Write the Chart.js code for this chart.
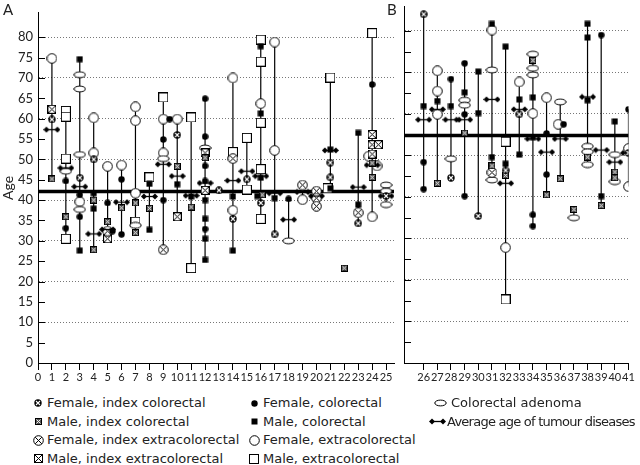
<!DOCTYPE html>
<html>
<head>
<meta charset="utf-8">
<script src="https://cdn.jsdelivr.net/npm/chart.js@4.4.1/dist/chart.umd.min.js"></script>
<style>
  body { margin: 0; background: #fff; width: 640px; height: 465px; overflow: hidden; position: relative; font-family: Lato, "DejaVu Sans", sans-serif; color: #222; }
  canvas.chart { position: absolute; top: 0; }
  #chartA { left: 0; }
  #chartB { left: 398px; }
  .panel { position: absolute; font-size: 15px; }
  .legIcon { position: absolute; }
  .legText { position: absolute; font-family: "DejaVu Sans", sans-serif; font-size: 13px; line-height: 18px; white-space: nowrap; }
</style>
</head>
<body>
<canvas id="chartA" class="chart" width="400" height="390"></canvas>
<canvas id="chartB" class="chart" width="242" height="390"></canvas>
<div class="panel" style="left:3px;top:0px">A</div>
<div class="panel" style="left:387px;top:0px">B</div>
<div id="legend"></div>
<script>
// [family, age] pairs, families 1-25 in panel A, 26-41 in panel B
const femaleIndexColorectal = [[1,59.8],[3,45.5],[4,50],[10,56],[13,42.4],[14,35.4],[15,45.1],[16,39.3],[17,31.6],
  [21,49.2],[21,45.6],[23,34.3],[25,41],[26,84],[28,44.6],[30,35.4],[32,46.4],[33,59.9],[41,50.6]];
const maleIndexColorectal = [[1,45.2],[2,35.9],[4,40],[4,27.8],[5,34.7],[6,38.1],[7,39.3],[7,32],[8,38],[10,48.3],
  [11,38.3],[12,50.4],[16.1,41.3],[22,23.3],[24,49.1],[24,45.6],[27,43.3],[29,55.4],[31,47.5],[32,45.2],[34,72.9],
  [35,40.5],[36,44.4],[37,37],[38,49.6],[39,37.9],[40,46],[40,44.6]];
const femaleIndexExtracolorectal = [[5,32.4],[9,27.8],[14,50.2],[19,43.7],[20,42.2],[20,40.5],[20,38.5],[23,36.9],[31,45.9]];
const maleIndexExtracolorectal = [[1,62.3],[5,30.5],[10,35.9],[12,51.6],[12,42.4],[24,56.1],[24,53.6],[24.45,53.6],[24,51.3]];
const femaleColorectal = [[2,44.7],[2,33.1],[3,41.3],[3,35.9],[5,39.3],[5.35,32.4],[6,45.1],[6,31.6],[9.45,59.9],[9,54.9],
  [9,40],[12,64.9],[12,55.6],[12,48.4],[12,44.7],[12,32.9],[18,40.3],[24,68.4],[26,48.4],[26,41.9],[28,68.4],[29,72.2],
  [29,59.9],[29,40.2],[34,35.7],[34,33],[35,55.3],[35,45.4],[36.25,57.5],[39,79],[41,61.1]];
const maleColorectal = [[3,74.6],[3,27.6],[4,41.7],[4,37.9],[8,44],[8,32.7],[10,43.9],[11,40.9],[12,40],[12,35.4],
  [12,30.5],[12,25.3],[14,40.9],[14,27.6],[16,77.8],[16,61.3],[16,45.5],[15.75,41],[17,40.5],[21,52.4],[21,42.9],
  [23,56.5],[23,38.9],[26,61.9],[27,63.1],[28,61.9],[29,65.2],[30,70.2],[30,60.2],[31,81.7],[31,49.6],[32,76.2],
  [32,48],[33,63.5],[33,50.2],[34,64],[34,54.4],[38,81.7],[38,78.4],[38,63.3],[39,40.2],[40,58.2]];
const femaleExtracolorectal = [[1,74.8],[3,39.6],[4,60.2],[4,51.6],[5,48.3],[6,48.6],[7,62.9],[7,59.5],[7,41.7],
  [9,59.9],[9,51.6],[10,59.9],[14,70],[14,37.5],[16,63.7],[17,78.8],[17,52.2],[19,40.1],[23.75,50.8],[24.35,48.4],
  [24,35.9],[27,70.4],[27,65.5],[27,59.9],[31,80.2],[32,27.8],[33,67.7],[34,60.1],[35,63.9],[35.85,57.5],[41,51.7],[41,42.5]];
const maleExtracolorectal = [[2,61.9],[2,60.5],[2,50.2],[2,30.5],[7,34.7],[8,45.6],[9,65.2],[11,60.3],[11,23.3],
  [14,51.8],[15,55.3],[15,42.6],[16,79.4],[16,74],[16,59],[16,47.6],[16,35.4],[21,70.1],[20.8,42.9],[24,81],[32,53.3],[32,15.3]];
const colorectalAdenoma = [[2,47.1],[3,70.8],[3,67.3],[3,51.2],[3,37.7],[7,33.8],[9,50.2],[12,52.8],[18,30],[25,43.7],
  [25,42.2],[25,38.9],[28,49.2],[29,63.3],[29,62.1],[31,70.6],[31,44.1],[34,74.4],[34,71],[34,69.4],[36,62.9],[37,35],
  [38,52.2],[38,50.9],[38,47.8],[40,50.2],[40,43.7]];
const averageTumourAge = [[1,57.3],[2,47.9],[3,43.3],[4,31.7],[5,32.8],[6,39.5],[8,40.9],[9,48.8],[10,45.9],[11,41.1],
  [12,44.2],[14,44.8],[15,47.1],[16,45.9],[17,41.7],[18,35.2],[19,42],[20,41],[21,52.2],[23,43.2],[24,48.6],[25,41],
  [26,58.6],[27,61.1],[28,58.6],[29,58.6],[31,63.5],[32,43.3],[33,61.1],[34,54],[35,50.8],[36,54],[38,64.1],
  [39,51.3],[40,48.4],[41,50.6]];

const groupAverageA = 42.1;
const groupAverageB = 54.8;
const ticksA = [0,1,2,3,4,5,6,7,8,9,10,11,12,13,14,15,16,17,18,19,20,21,22,23,24,25];
const ticksB = [26,27,28,29,30,31,32,33,34,35,36,37,38,39,40,41];
const ageTicks = [0,5,10,15,20,25,30,35,40,45,50,55,60,65,70,75,80];

function makeIcon(kind) {
  const sz = {femIndexCol:[8,8], maleIndexCol:[7,7], femIndexExtra:[11,11], maleIndexExtra:[9,9], femCol:[7,7],
    maleCol:[7,7], femExtra:[11,11], maleExtra:[10,10], adenoma:[13,8], avg:[17,7]}[kind];
  const c = document.createElement('canvas');
  c.width = sz[0]; c.height = sz[1];
  const g = c.getContext('2d');
  const w = sz[0], h = sz[1], cx = w / 2, cy = h / 2;
  g.lineWidth = 1; g.strokeStyle = '#000'; g.fillStyle = '#000';
  if (kind === 'femCol') {
    g.beginPath(); g.arc(cx, cy, 3.2, 0, 2 * Math.PI); g.fill();
  } else if (kind === 'maleCol') {
    g.fillRect(0.5, 0.5, 6, 6);
  } else if (kind === 'femIndexCol') {
    g.beginPath(); g.arc(cx, cy, 3.7, 0, 2 * Math.PI); g.fill();
    g.strokeStyle = '#fff'; g.lineWidth = 1.1;
    g.beginPath(); g.moveTo(cx - 2, cy - 2); g.lineTo(cx + 2, cy + 2); g.moveTo(cx + 2, cy - 2); g.lineTo(cx - 2, cy + 2); g.stroke();
  } else if (kind === 'maleIndexCol') {
    g.fillStyle = '#555'; g.fillRect(0, 0, 7, 7);
    g.strokeRect(0.5, 0.5, 6, 6);
    g.strokeStyle = '#eee';
    g.beginPath(); g.moveTo(1.5, 1.5); g.lineTo(5.5, 5.5); g.moveTo(5.5, 1.5); g.lineTo(1.5, 5.5); g.stroke();
  } else if (kind === 'femIndexExtra') {
    g.fillStyle = '#fff'; g.beginPath(); g.arc(cx, cy, 4.8, 0, 2 * Math.PI); g.fill(); g.stroke();
    g.beginPath(); g.moveTo(cx - 3.3, cy - 3.3); g.lineTo(cx + 3.3, cy + 3.3); g.moveTo(cx + 3.3, cy - 3.3); g.lineTo(cx - 3.3, cy + 3.3); g.stroke();
  } else if (kind === 'maleIndexExtra') {
    g.fillStyle = '#fff'; g.fillRect(0.5, 0.5, 8, 8); g.strokeRect(0.5, 0.5, 8, 8);
    g.beginPath(); g.moveTo(0.5, 0.5); g.lineTo(8.5, 8.5); g.moveTo(8.5, 0.5); g.lineTo(0.5, 8.5); g.stroke();
  } else if (kind === 'femExtra') {
    g.fillStyle = '#fff'; g.beginPath(); g.arc(cx, cy, 4.8, 0, 2 * Math.PI); g.fill(); g.stroke();
  } else if (kind === 'maleExtra') {
    g.fillStyle = '#fff'; g.fillRect(0.5, 0.5, 9, 9); g.strokeRect(0.5, 0.5, 9, 9);
  } else if (kind === 'adenoma') {
    g.fillStyle = '#fff'; g.beginPath(); g.ellipse(cx, cy, 5.7, 2.9, 0, 0, 2 * Math.PI); g.fill(); g.stroke();
  } else if (kind === 'avg') {
    g.lineWidth = 1.3;
    g.beginPath(); g.moveTo(3, cy); g.lineTo(w - 3, cy); g.stroke();
    [3, w - 3].forEach(x => {
      g.beginPath(); g.moveTo(x - 3, cy); g.lineTo(x, cy - 3); g.lineTo(x + 3, cy); g.lineTo(x, cy + 3); g.closePath(); g.fill();
    });
  }
  return c;
}

const seriesDefs = [
  { label: 'Female, index colorectal', data: femaleIndexColorectal, kind: 'femIndexCol', order: 2, col: 0, row: 0 },
  { label: 'Male, index colorectal', data: maleIndexColorectal, kind: 'maleIndexCol', order: 2, col: 0, row: 1 },
  { label: 'Female, index extracolorectal', data: femaleIndexExtracolorectal, kind: 'femIndexExtra', order: 4, col: 0, row: 2 },
  { label: 'Male, index extracolorectal', data: maleIndexExtracolorectal, kind: 'maleIndexExtra', order: 4, col: 0, row: 3 },
  { label: 'Female, colorectal', data: femaleColorectal, kind: 'femCol', order: 1, col: 1, row: 0 },
  { label: 'Male, colorectal', data: maleColorectal, kind: 'maleCol', order: 1, col: 1, row: 1 },
  { label: 'Female, extracolorectal', data: femaleExtracolorectal, kind: 'femExtra', order: 6, col: 1, row: 2 },
  { label: 'Male, extracolorectal', data: maleExtracolorectal, kind: 'maleExtra', order: 6, col: 1, row: 3 },
  { label: 'Colorectal adenoma', data: colorectalAdenoma, kind: 'adenoma', order: 5, col: 2, row: 0 },
  { label: 'Average age of tumour diseases', data: averageTumourAge, kind: 'avg', order: 3, col: 2, row: 1 }
];
const icons = {};
seriesDefs.forEach(s => icons[s.kind] = makeIcon(s.kind));

function toPoints(arr, panel) {
  return arr.filter(p => panel === 'A' ? p[0] < 25.8 : p[0] > 25.8).map(p => ({ x: p[0], y: p[1] }));
}

function buildDatasets(panel, groupAvg, xFrom, xTo) {
  const ds = [];
  const fams = {};
  seriesDefs.forEach(s => toPoints(s.data, panel).forEach(p => {
    const f = Math.round(p.x);
    (fams[f] = fams[f] || []).push(p.y);
  }));
  Object.keys(fams).forEach(f => {
    const ys = fams[f];
    ds.push({ data: [{ x: +f, y: Math.min(...ys) }, { x: +f, y: Math.max(...ys) }], showLine: true,
      borderColor: '#000', borderWidth: 1.2, pointRadius: 0, order: 10 });
  });
  ds.push({ data: [{ x: xFrom, y: groupAvg }, { x: xTo, y: groupAvg }], showLine: true,
    borderColor: '#000', borderWidth: 3.5, pointRadius: 0, order: 9 });
  seriesDefs.forEach(s => ds.push({ label: s.label, data: toPoints(s.data, panel), pointStyle: icons[s.kind],
    pointRadius: 5, order: s.order }));
  return ds;
}

// short tick marks on the inside of the age axis
const innerTicks = {
  id: 'innerTicks',
  beforeDatasetsDraw(chart) {
    const ctx = chart.ctx, y = chart.scales.y, left = chart.chartArea.left;
    ctx.save();
    ctx.strokeStyle = '#000'; ctx.lineWidth = 1;
    ageTicks.forEach(v => {
      const py = Math.round(y.getPixelForValue(v)) + 0.5;
      ctx.beginPath(); ctx.moveTo(left, py); ctx.lineTo(left + 7, py); ctx.stroke();
    });
    ctx.restore();
  }
};

function makeOptions(xMin, xMax, xTicks, showY, padRight) {
  return {
    responsive: false,
    animation: false,
    devicePixelRatio: 1,
    layout: { padding: { top: 2.5, right: padRight, left: 0, bottom: 0 } },
    plugins: { legend: { display: false }, tooltip: { enabled: false } },
    scales: {
      x: {
        type: 'linear', min: xMin, max: xMax,
        afterBuildTicks: sc => { sc.ticks = xTicks.map(v => ({ value: v })); },
        afterFit: sc => { sc.height = 27; },
        ticks: { color: '#222', font: { family: 'Lato', size: 11 }, padding: 1, maxRotation: 0, autoSkip: false },
        grid: { drawOnChartArea: false, drawTicks: true, tickLength: 7, tickColor: '#000' },
        border: { color: '#000', width: 1 }
      },
      y: {
        min: 0, max: 86,
        afterBuildTicks: sc => { sc.ticks = ageTicks.map(v => ({ value: v })); },
        afterFit: sc => { sc.width = showY ? 38 : 2; },
        ticks: { display: showY, color: '#222', font: { family: 'Lato', size: 13 }, padding: 5 },
        title: { display: showY, text: 'Age', color: '#222', font: { family: 'Lato', size: 14 }, padding: 0 },
        grid: {
          drawTicks: false,
          color: c => (c.tick && c.tick.value > 0 && c.tick.value % 10 === 0) ? '#777' : 'rgba(0,0,0,0)'
        },
        border: { color: '#000', width: 1, dash: [1, 2] }
      }
    }
  };
}

new Chart(document.getElementById('chartA'), {
  type: 'scatter',
  data: { datasets: buildDatasets('A', groupAverageA, 0, 25.57) },
  options: makeOptions(0, 25.57, ticksA, true, 1),
  plugins: [innerTicks]
});

new Chart(document.getElementById('chartB'), {
  type: 'scatter',
  data: { datasets: buildDatasets('B', groupAverageB, 24.56, 41) },
  options: makeOptions(24.56, 41, ticksB, false, 11.5),
  plugins: [innerTicks]
});

// legend in three columns
const legend = document.getElementById('legend');
const colIcon = [38, 254, 440];
const colText = [47, 263, 451];
const rowY = [403, 421.5, 440, 458.5];
seriesDefs.forEach(s => {
  const ic = makeIcon(s.kind);
  ic.className = 'legIcon';
  let cx = colIcon[s.col];
  let tx = colText[s.col];
  const t = document.createElement('div');
  if (s.kind === 'avg') { cx = 437; tx = 447; t.style.letterSpacing = '-0.75px'; }
  ic.style.left = (cx - ic.width / 2) + 'px';
  ic.style.top = (rowY[s.row] - ic.height / 2) + 'px';
  legend.appendChild(ic);
  t.className = 'legText';
  t.textContent = s.label;
  t.style.left = tx + 'px';
  t.style.top = (rowY[s.row] - 9) + 'px';
  legend.appendChild(t);
});
</script>
</body>
</html>
